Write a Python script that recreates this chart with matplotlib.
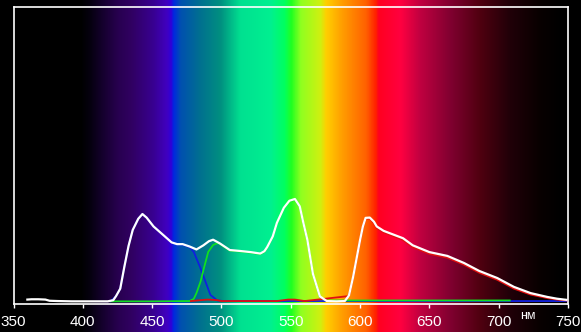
import numpy as np
import matplotlib
matplotlib.use("Agg")
import matplotlib.pyplot as plt
from matplotlib.colors import LinearSegmentedColormap

# ---------------- data ----------------
xticks = [350, 400, 450, 500, 550, 600, 650, 700, 750]
unit_label = "нм"

white_nm = [360, 363, 368, 373, 376, 382, 392, 405, 418, 422, 424, 427, 430, 433, 436,
            440, 443, 446, 451, 458, 464, 468, 472, 477, 482, 487, 491, 494, 499, 506, 513,
            521, 528, 531, 533, 537, 540, 545, 549, 553, 556.5, 559, 562, 566, 571, 576,
            583, 589, 592, 595, 598, 600, 602, 604, 607, 610, 612, 617, 622, 631, 638,
            650, 663, 675, 686, 699, 711, 723, 735, 742, 749]
white_val = [0.8, 0.9, 0.9, 0.8, 0.4, 0.3, 0.2, 0.2, 0.2, 0.6, 2.0, 4.5, 12, 19, 24.4,
             28.2, 29.8, 28.6, 25.6, 22.7, 20.2, 19.6, 19.6, 18.8, 17.8, 19.2, 20.6, 21.1, 19.8, 17.6, 17.3,
             16.9, 16.4, 17.2, 18.6, 22.2, 26.8, 31.9, 34.3, 34.9, 32.4, 27, 21, 9.5, 1.9, 0.3,
             0.2, 0.3, 2.2, 8.5, 16, 21, 25.5, 28.5, 28.6, 27.2, 25.6, 24.1, 23.2, 21.6, 19.2,
             16.9, 15.6, 13.2, 10.5, 8.1, 5.1, 3.0, 1.7, 1.1, 0.7]

blue_nm = [420, 424, 427, 430, 433, 436, 440, 443, 446, 451, 458, 464, 468, 472, 477, 480,
           484.5, 488, 492, 497, 502, 560, 620, 700, 750]
blue_val = [0.2, 2.0, 4.5, 12, 19, 24.4, 28.2, 29.8, 28.6, 25.6, 22.7, 20.2, 19.6, 19.4, 18.6, 17.0,
            11.9, 7.5, 2.4, 0.5, 0.3, 0.3, 0.3, 0.3, 0.3]

green_nm = [420, 450, 477, 480, 482, 485, 487, 490.5, 494, 497.5, 499, 506, 513, 521, 528, 531,
            533, 537, 540, 545, 549, 553, 556.5, 559, 562, 566, 571, 576, 600, 650, 708]
green_val = [0.2, 0.2, 0.3, 1.0, 3.0, 7.0, 10.8, 17.0, 19.3, 20.0, 19.6, 17.4, 17.1, 16.7, 16.2, 17.0,
             18.4, 22.0, 26.6, 31.7, 34.1, 34.7, 32.2, 26.8, 20.8, 9.3, 1.7, 0.5, 0.5, 0.5, 0.5]

red_nm = [478, 485, 490, 497, 500, 540, 548, 553, 560, 592, 595, 598, 600, 602, 604, 607,
          610, 612, 617, 622, 631, 638, 650, 663, 675, 686, 699, 711, 723, 735, 742, 749]
red_val = [0.3, 0.6, 0.8, 0.6, 0.3, 0.3, 0.8, 0.8, 0.3, 2.0, 8.2, 15.7, 20.7, 25.2, 28.2, 28.3,
           26.8, 25.1, 23.6, 22.7, 21.0, 18.6, 16.3, 15.0, 12.6, 9.9, 7.5, 4.5, 2.5, 1.3, 0.8, 0.5]

# ---------------- style ----------------
spec_stops = [
    (350, (0x00, 0x00, 0x00)), (398, (0x00, 0x00, 0x00)), (405, (0x06, 0x00, 0x10)),
    (412, (0x12, 0x00, 0x28)), (425, (0x28, 0x00, 0x50)), (434, (0x30, 0x00, 0x60)),
    (450, (0x38, 0x00, 0x90)), (460, (0x40, 0x00, 0xC0)), (463, (0x30, 0x00, 0xD8)),
    (465, (0x00, 0x28, 0xE0)), (470, (0x00, 0x50, 0xB0)), (484, (0x00, 0x70, 0x90)),
    (499, (0x00, 0x90, 0x80)), (513, (0x00, 0xE0, 0x90)), (535, (0x00, 0xF0, 0x90)),
    (545, (0x00, 0xFF, 0x60)), (550, (0x20, 0xFF, 0x20)), (557, (0x90, 0xFF, 0x20)),
    (571, (0xD0, 0xF0, 0x10)), (575, (0xFF, 0xD0, 0x00)), (586, (0xFF, 0xA0, 0x00)),
    (604, (0xFF, 0x60, 0x00)), (611, (0xFF, 0x20, 0x00)), (613, (0xFF, 0x00, 0x20)),
    (629, (0xFF, 0x00, 0x40)), (643, (0xC0, 0x00, 0x40)), (665, (0x80, 0x00, 0x30)),
    (686, (0x50, 0x00, 0x10)), (708, (0x20, 0x00, 0x08)), (730, (0x08, 0x00, 0x00)),
    (745, (0x00, 0x00, 0x00)), (750, (0x00, 0x00, 0x00)),
]
lo, hi = spec_stops[0][0], spec_stops[-1][0]
cmap = LinearSegmentedColormap.from_list(
    "spec", [((w - lo) / (hi - lo), tuple(c / 255 for c in col)) for w, col in spec_stops], N=1024)

W, H = 581, 332
fig = plt.figure(figsize=(W / 100, H / 100), dpi=100, facecolor="black")

left, right, top, bottom = 13.5 / W, 568 / W, 7 / H, 304 / H
# background spectrum, full figure height
bg = fig.add_axes([left, 0, right - left, 1], zorder=0)
grad = np.linspace(lo, hi, 800)[None, :]
bg.imshow(grad, aspect="auto", cmap=cmap, extent=[lo, hi, 0, 1], vmin=lo, vmax=hi,
          interpolation="bilinear")
bg.set_xlim(lo, hi)
bg.set_ylim(0, 1)
bg.axis("off")

ax = fig.add_axes([left, 1 - bottom, right - left, bottom - top], zorder=1)
ax.patch.set_alpha(0)
ax.plot(blue_nm, blue_val, color="#1020e0", lw=1.3, zorder=2)
ax.plot(green_nm, green_val, color="#10e020", lw=1.3, zorder=3)
ax.plot(red_nm, red_val, color="#e01010", lw=1.3, zorder=4)
ax.plot(white_nm, white_val, color="white", lw=1.6, zorder=5)

ax.set_xlim(350, 750)
ax.set_ylim(-0.7, 100)
for s in ax.spines.values():
    s.set_color("white")
    s.set_linewidth(1.2)
ax.set_xticks(xticks)
ax.set_xticklabels([str(t) for t in xticks])
ax.set_yticks([])
ax.tick_params(axis="x", colors="white", length=3, width=1, direction="out", pad=5,
               labelsize=11)
for lbl in ax.get_xticklabels():
    lbl.set_fontfamily("Liberation Sans")
ax.text(721, -4.7, unit_label, color="white", fontsize=9, family="Liberation Sans",
        ha="center", va="center", clip_on=False)

fig.savefig("out.png", dpi=100, facecolor="black")
